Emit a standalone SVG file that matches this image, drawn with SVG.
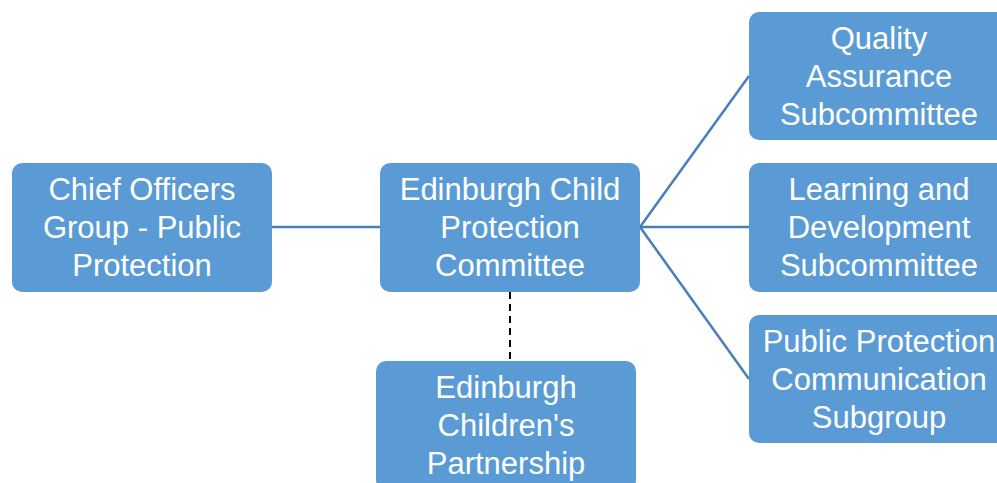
<svg xmlns="http://www.w3.org/2000/svg" width="997" height="483" viewBox="0 0 997 483">
<style>
.box{fill:#5B9BD5;}
.t{font-family:"Liberation Sans",Arial,sans-serif;font-size:31px;fill:#ffffff;text-anchor:middle;}
.ln{stroke:#4A7EBB;stroke-width:2.5;fill:none;}
.dash{stroke:#000000;stroke-width:2;stroke-dasharray:7,5;fill:none;}
</style>
<rect width="997" height="483" fill="#ffffff"/>
<g id="connectors">
<line class="ln" x1="272" y1="227" x2="380" y2="227"/>
<line class="ln" x1="640" y1="227" x2="749" y2="76"/>
<line class="ln" x1="640" y1="227" x2="749" y2="227"/>
<line class="ln" x1="640" y1="227" x2="749" y2="379"/>
<line class="dash" x1="510" y1="292" x2="510" y2="361"/>
</g>
<g id="chief">
<rect class="box" x="12" y="163" width="260" height="129" rx="10"/>
<text class="t" x="142" y="200">Chief Officers</text>
<text class="t" x="142" y="238">Group - Public</text>
<text class="t" x="142" y="276">Protection</text>
</g>
<g id="ecpc">
<rect class="box" x="380" y="163" width="260" height="129" rx="10"/>
<text class="t" x="510" y="200">Edinburgh Child</text>
<text class="t" x="510" y="238">Protection</text>
<text class="t" x="510" y="276">Committee</text>
</g>
<g id="ecp">
<rect class="box" x="376" y="361" width="260" height="129" rx="10"/>
<text class="t" x="506" y="398">Edinburgh</text>
<text class="t" x="506" y="436">Children's</text>
<text class="t" x="506" y="474">Partnership</text>
</g>
<g id="qa">
<rect class="box" x="749" y="12" width="260" height="128" rx="10"/>
<text class="t" x="879" y="49">Quality</text>
<text class="t" x="879" y="87">Assurance</text>
<text class="t" x="879" y="125">Subcommittee</text>
</g>
<g id="ld">
<rect class="box" x="749" y="163" width="260" height="129" rx="10"/>
<text class="t" x="879" y="200">Learning and</text>
<text class="t" x="879" y="238">Development</text>
<text class="t" x="879" y="276">Subcommittee</text>
</g>
<g id="ppc">
<rect class="box" x="749" y="315" width="260" height="128" rx="10"/>
<text class="t" x="879" y="352">Public Protection</text>
<text class="t" x="879" y="390">Communication</text>
<text class="t" x="879" y="428">Subgroup</text>
</g>
</svg>
